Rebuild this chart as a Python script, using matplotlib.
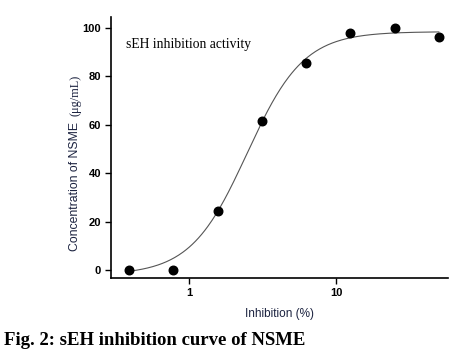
import numpy as np
import matplotlib
matplotlib.use('Agg')
import matplotlib.pyplot as plt
from matplotlib.ticker import FixedLocator, NullLocator

# Data
inhibition = [0.390625, 0.78125, 1.5625, 3.125, 6.25, 12.5, 25, 50]
concentration = [0, 0, 24.5, 61.5, 85.5, 98, 100, 96.5]

# 4-parameter logistic fit shown in the chart (parameters)
fit_bottom = -2.0
fit_top = 98.5
fit_ec50 = 2.48
fit_hill = 2.26

xs = np.logspace(np.log10(inhibition[0]), np.log10(inhibition[-1]), 300)
ys = fit_bottom + (fit_top - fit_bottom) / (1 + (fit_ec50 / xs) ** fit_hill)

label_color = '#1c2340'

fig = plt.figure(figsize=(4.49, 3.57), dpi=100)
ax = fig.add_axes([0.247, 0.221, 0.751, 0.731])

ax.plot(xs, ys, color='#555555', lw=0.8)
ax.scatter(inhibition, concentration, s=38, color='black', zorder=3)

ax.set_xscale('log')
ax.set_xlim(0.294, 57.8)
ax.set_ylim(-3.3, 104.5)
ax.xaxis.set_major_locator(FixedLocator([1, 10]))
ax.xaxis.set_minor_locator(NullLocator())
ax.set_xticklabels(['1', '10'])
ax.set_yticks([0, 20, 40, 60, 80, 100])

for side in ['top', 'right']:
    ax.spines[side].set_visible(False)
for side in ['left', 'bottom']:
    ax.spines[side].set_linewidth(1.2)
ax.tick_params(length=4, width=1, labelsize=8, direction='out', pad=3)
for lbl in ax.get_xticklabels() + ax.get_yticklabels():
    lbl.set_fontweight('bold')
    lbl.set_family('Liberation Sans')

ax.set_xlabel('Inhibition (%)', fontsize=8.5, family='Liberation Sans', color=label_color, labelpad=7)
fig.text(0.168, 0.668, 'Concentration of NSME ', rotation=90, fontsize=8.8,
         family='Liberation Sans', color=label_color, ha='center', va='top')
fig.text(0.168, 0.676, '(\u03bcg/mL)', rotation=90, fontsize=8.8,
         family='Liberation Serif', color=label_color, ha='center', va='bottom')

fig.text(0.28, 0.874, 'sEH inhibition activity', fontsize=9.8,
         family='Liberation Serif', ha='left', va='center')

fig.text(0.01, 0.045, 'Fig. 2: sEH inhibition curve of NSME', fontsize=13.5,
         family='Liberation Serif', fontweight='bold', ha='left', va='center')

fig.savefig('out.png', dpi=100)
